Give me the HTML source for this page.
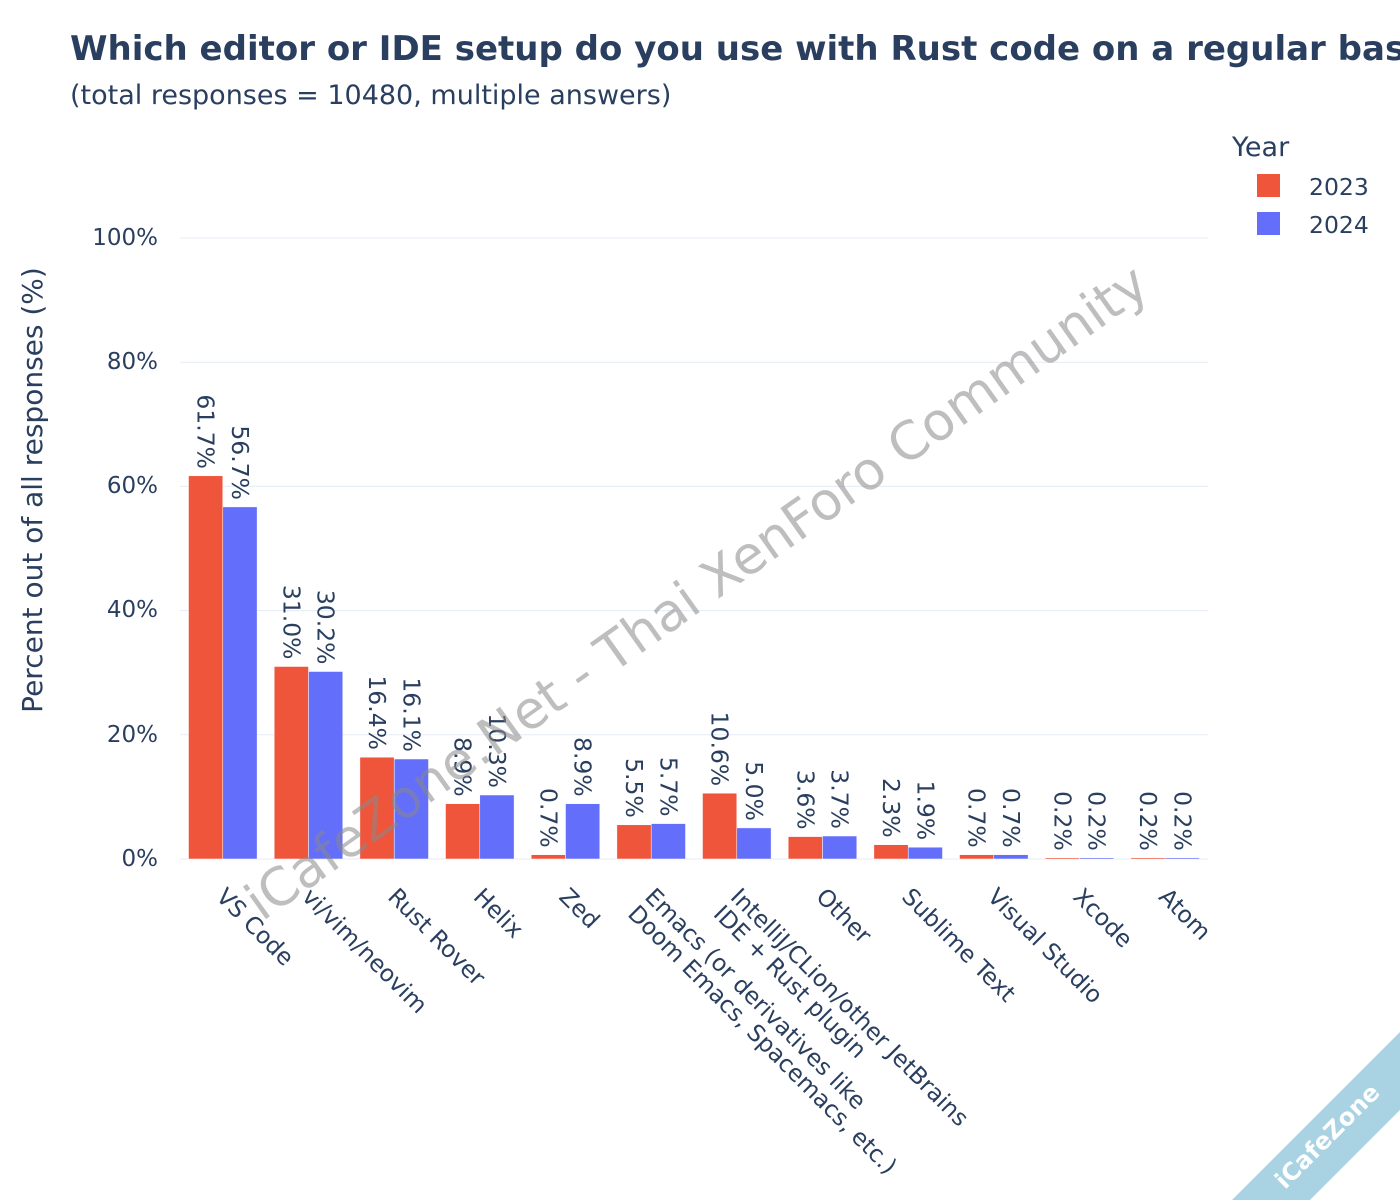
<!DOCTYPE html>
<html><head><meta charset="utf-8"><style>
html,body{margin:0;padding:0;background:#fff;overflow:hidden;}
svg{display:block;font-family:"DejaVu Sans","Liberation Sans",sans-serif;}
</style></head><body>
<svg width="1400" height="1200" viewBox="0 0 1400 1200" xmlns="http://www.w3.org/2000/svg">
<rect width="1400" height="1200" fill="#fff"/>
<text x="70" y="60" font-size="34" font-weight="bold" fill="#2a3f5f">Which editor or IDE setup do you use with Rust code on a regular basis?</text>
<text x="70" y="104" font-size="27" fill="#2a3f5f">(total responses = 10480, multiple answers)</text>
<g stroke="#E5ECF6" stroke-width="1">
<line x1="180" x2="1208" y1="238" y2="238"/><line x1="180" x2="1208" y1="362.2" y2="362.2"/>
<line x1="180" x2="1208" y1="486.4" y2="486.4"/><line x1="180" x2="1208" y1="610.6" y2="610.6"/>
<line x1="180" x2="1208" y1="734.8" y2="734.8"/><line x1="180" x2="1208" y1="859" y2="859"/>
</g>
<g font-size="23" fill="#2a3f5f" text-anchor="end" dominant-baseline="central">
<text x="158" y="238">100%</text><text x="158" y="362">80%</text><text x="158" y="486">60%</text>
<text x="158" y="610">40%</text><text x="158" y="735">20%</text><text x="158" y="859">0%</text>
</g>
<text transform="translate(42,490) rotate(-90)" text-anchor="middle" font-size="28" fill="#2a3f5f">Percent out of all responses (%)</text>
<g fill="#EF553B" stroke="#fff" stroke-width="0.5">
<rect x="188.5" y="475.8" width="34.3" height="383.2"/>
<rect x="274.2" y="666.5" width="34.3" height="192.5"/>
<rect x="359.9" y="757.2" width="34.3" height="101.8"/>
<rect x="445.5" y="803.7" width="34.3" height="55.3"/>
<rect x="531.2" y="854.7" width="34.3" height="4.3"/>
<rect x="616.9" y="824.8" width="34.3" height="34.2"/>
<rect x="702.5" y="793.2" width="34.3" height="65.8"/>
<rect x="788.2" y="836.6" width="34.3" height="22.4"/>
<rect x="873.9" y="844.7" width="34.3" height="14.3"/>
<rect x="959.5" y="854.7" width="34.3" height="4.3"/>
<rect x="1045.2" y="857.8" width="34.3" height="1.2"/>
<rect x="1130.9" y="857.8" width="34.3" height="1.2"/>
</g>
<g fill="#636EFA" stroke="#fff" stroke-width="0.5">
<rect x="222.8" y="506.9" width="34.3" height="352.1"/>
<rect x="308.5" y="671.5" width="34.3" height="187.5"/>
<rect x="394.2" y="759" width="34.3" height="100"/>
<rect x="479.8" y="795" width="34.3" height="64"/>
<rect x="565.5" y="803.7" width="34.3" height="55.3"/>
<rect x="651.2" y="823.6" width="34.3" height="35.4"/>
<rect x="736.8" y="827.9" width="34.3" height="31.1"/>
<rect x="822.5" y="836" width="34.3" height="23"/>
<rect x="908.2" y="847.2" width="34.3" height="11.8"/>
<rect x="993.8" y="854.7" width="34.3" height="4.3"/>
<rect x="1079.5" y="857.8" width="34.3" height="1.2"/>
<rect x="1165.2" y="857.8" width="34.3" height="1.2"/>
</g>
<g font-size="23.5" fill="#2a3f5f" text-anchor="end" dominant-baseline="central">
<text transform="translate(205.6,469) rotate(90)">61.7%</text>
<text transform="translate(240,500) rotate(90)">56.7%</text>
<text transform="translate(291.3,659.5) rotate(90)">31.0%</text>
<text transform="translate(325.6,664.5) rotate(90)">30.2%</text>
<text transform="translate(377,750) rotate(90)">16.4%</text>
<text transform="translate(411.3,752) rotate(90)">16.1%</text>
<text transform="translate(462.6,796.7) rotate(90)">8.9%</text>
<text transform="translate(496.9,788) rotate(90)">10.3%</text>
<text transform="translate(548.3,847.7) rotate(90)">0.7%</text>
<text transform="translate(582.6,796.7) rotate(90)">8.9%</text>
<text transform="translate(634,817.8) rotate(90)">5.5%</text>
<text transform="translate(668.3,816.6) rotate(90)">5.7%</text>
<text transform="translate(719.6,786.2) rotate(90)">10.6%</text>
<text transform="translate(753.9,820.9) rotate(90)">5.0%</text>
<text transform="translate(805.3,829.6) rotate(90)">3.6%</text>
<text transform="translate(839.6,829) rotate(90)">3.7%</text>
<text transform="translate(891,837.7) rotate(90)">2.3%</text>
<text transform="translate(925.3,840.2) rotate(90)">1.9%</text>
<text transform="translate(976.6,847.7) rotate(90)">0.7%</text>
<text transform="translate(1010.9,847.7) rotate(90)">0.7%</text>
<text transform="translate(1062.3,850.8) rotate(90)">0.2%</text>
<text transform="translate(1096.6,850.8) rotate(90)">0.2%</text>
<text transform="translate(1148,850.8) rotate(90)">0.2%</text>
<text transform="translate(1182.3,850.8) rotate(90)">0.2%</text>
</g>
<g font-size="23.3" fill="#2a3f5f">
<text transform="translate(215,898) rotate(45)">VS Code</text>
<text transform="translate(300.9,898) rotate(45)">vi/vim/neovim</text>
<text transform="translate(386.6,898) rotate(45)">Rust Rover</text>
<text transform="translate(472.2,898) rotate(45)">Helix</text>
<text transform="translate(557.9,898) rotate(45)">Zed</text>
<text transform="translate(643.6,898) rotate(45)">Emacs (or derivatives like<tspan x="0" dy="24">Doom Emacs, Spacemacs, etc.)</tspan></text>
<text transform="translate(729.2,898) rotate(45)">IntelliJ/CLion/other JetBrains<tspan x="0" dy="24">IDE + Rust plugin</tspan></text>
<text transform="translate(814.9,898) rotate(45)">Other</text>
<text transform="translate(900.6,898) rotate(45)">Sublime Text</text>
<text transform="translate(986.2,898) rotate(45)">Visual Studio</text>
<text transform="translate(1071.9,898) rotate(45)">Xcode</text>
<text transform="translate(1157.6,898) rotate(45)">Atom</text>
</g>
<text x="1232" y="156" font-size="27" fill="#2a3f5f">Year</text>
<rect x="1257" y="174" width="23" height="23" fill="#EF553B"/>
<text x="1309" y="195" font-size="23.5" fill="#2a3f5f">2023</text>
<rect x="1257" y="212" width="23" height="23" fill="#636EFA"/>
<text x="1309" y="233" font-size="23.5" fill="#2a3f5f">2024</text>
<text transform="translate(262,922) rotate(-35.3)" font-size="52.5" fill="#888" fill-opacity="0.55">iCafeZone.Net - Thai XenForo Community</text>
<polygon points="1232,1200 1400,1032 1400,1110 1310,1200" fill="#a9d3e3"/>
<text transform="translate(1285,1190) rotate(-45)" font-size="24" font-weight="bold" fill="#fff">iCafeZone</text>
</svg>
</body></html>
